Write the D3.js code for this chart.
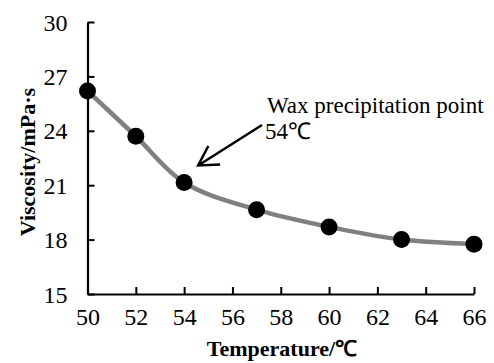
<!DOCTYPE html>
<html>
<head>
<meta charset="utf-8">
<script src="https://cdn.jsdelivr.net/npm/d3@7"></script>
<style>
  html, body { margin: 0; padding: 0; background: #fff; }
  svg { display: block; }
  text { font-family: "Liberation Serif", "Times New Roman", serif; fill: #000; }
</style>
</head>
<body>
<svg id="chart" width="494" height="363"></svg>
<script>
// Oil viscosity against temperature
const temperatures = [50, 52, 54, 57, 60, 63, 66];
const viscosities = [26.2, 23.7, 21.15, 19.65, 18.7, 18.0, 17.75];
const xTicks = [50, 52, 54, 56, 58, 60, 62, 64, 66];
const yTicks = [15, 18, 21, 24, 27, 30];
const xTitle = "Temperature/℃";
const yTitle = "Viscosity/mPa·s";
const noteLines = ["Wax precipitation point", "54℃"];
const noteTemperature = 54;

const serif = "'Liberation Serif', 'Times New Roman', serif";
const svg = d3.select("#chart");
const x = d3.scaleLinear().domain([50, 66]).range([87.5, 474]);
const y = d3.scaleLinear().domain([15, 30]).range([294, 22]);

// axes with inward ticks
const xAxis = svg.append("g").attr("transform", `translate(0,${y(15)})`)
  .call(d3.axisBottom(x).tickValues(xTicks).tickSize(-7).tickPadding(14).tickSizeOuter(0));
const yAxis = svg.append("g").attr("transform", `translate(${x(50)},0)`)
  .call(d3.axisLeft(y).tickValues(yTicks).tickSize(-7).tickPadding(20).tickSizeOuter(0));

[xAxis, yAxis].forEach(g => {
  g.attr("font-family", serif).attr("font-size", 24);
  g.select(".domain").attr("stroke", "#000").attr("stroke-width", 2.2);
  g.selectAll(".tick line").attr("stroke", "#000").attr("stroke-width", 2);
  g.selectAll(".tick text").attr("font-size", 24)
    .style("font-family", serif).attr("fill", "#000");
});
xAxis.selectAll(".tick text").attr("dy", "0.71em");
yAxis.selectAll(".tick text").attr("dy", "0.34em");

// smoothed curve
const line = d3.line()
  .x((d, i) => x(temperatures[i]))
  .y(d => y(d))
  .curve(d3.curveCatmullRom.alpha(0.5));
svg.append("path").datum(viscosities)
  .attr("d", line)
  .attr("fill", "none")
  .attr("stroke", "#808080")
  .attr("stroke-width", 4.5);

svg.selectAll("circle.pt").data(viscosities).join("circle")
  .attr("class", "pt")
  .attr("cx", (d, i) => x(temperatures[i]))
  .attr("cy", d => y(d))
  .attr("r", 8.5)
  .attr("fill", "#000");

// axis titles
svg.append("text")
  .attr("x", 282).attr("y", 356)
  .attr("text-anchor", "middle")
  .attr("font-size", 22).attr("font-weight", "bold")
  .text(xTitle);
svg.append("text")
  .attr("transform", "translate(35,162) rotate(-90)")
  .attr("text-anchor", "middle")
  .attr("font-size", 22).attr("font-weight", "bold")
  .text(yTitle);

// annotation pointing at the wax precipitation point
const ni = temperatures.indexOf(noteTemperature);
const tipX = x(noteTemperature) + 14, tipY = y(viscosities[ni]) - 17;
const startX = 262, startY = 125;
const ang = Math.atan2(startY - tipY, startX - tipX);
const arm = 22, spread = Math.PI / 6;
svg.append("path")
  .attr("d", `M${startX},${startY}L${tipX},${tipY}` +
    `M${tipX + arm * Math.cos(ang - spread)},${tipY + arm * Math.sin(ang - spread)}` +
    `L${tipX},${tipY}` +
    `L${tipX + arm * Math.cos(ang + spread)},${tipY + arm * Math.sin(ang + spread)}`)
  .attr("fill", "none").attr("stroke", "#000").attr("stroke-width", 2.5);

svg.append("text").attr("x", 267).attr("y", 113).attr("font-size", 23).text(noteLines[0]);
svg.append("text").attr("x", 265).attr("y", 139).attr("font-size", 23).text(noteLines[1]);
</script>
</body>
</html>
